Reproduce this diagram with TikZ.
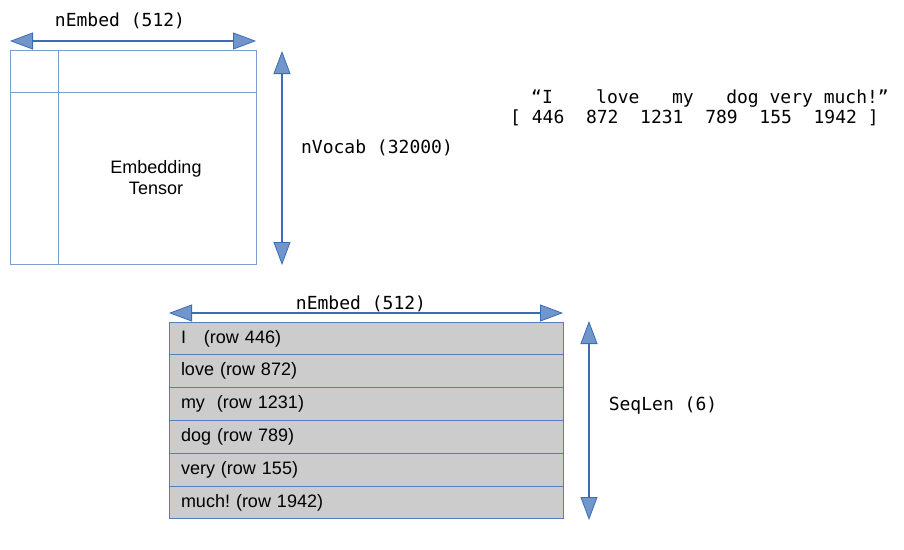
\documentclass[tikz,border=0pt]{standalone}
\usepackage{fontspec}
\setmainfont{Liberation Sans}
\newfontfamily\monof{DejaVu Sans Mono}
\usetikzlibrary{arrows.meta}
\frenchspacing
\definecolor{arrline}{RGB}{60,108,180}
\definecolor{arrfill}{RGB}{112,150,204}
\definecolor{tenline}{RGB}{124,156,205}
\definecolor{rowline}{RGB}{88,124,190}
\definecolor{rowfill}{RGB}{204,204,204}
\tikzset{
  dimarrow/.style={draw=arrline, line width=1.6pt,
    {Triangle[length=23pt,width=17pt,fill=arrfill,line width=0.8pt]}-{Triangle[length=23pt,width=17pt,fill=arrfill,line width=0.8pt]}},
  monolabel/.style={font=\monof\fontsize{18}{21}\selectfont, inner sep=0pt},
  tensor/.style={draw=tenline, line width=1pt, inner sep=0pt, outer sep=0pt},
  rowbox/.style={draw=rowline, line width=1pt, fill=rowfill, anchor=north west,
    text width=370pt, align=left, inner xsep=12pt, inner ysep=0pt, outer sep=0pt,
    minimum height=32.83pt, font=\fontsize{18}{21}\selectfont},
  sanslabel/.style={font=\fontsize{18}{21}\selectfont, align=center, inner sep=0pt}
}
\begin{document}
\begin{tikzpicture}[x=1pt,y=-1pt]
\useasboundingbox (0,0) rectangle (904,549);
% embedding tensor
\node[tensor, minimum width=246pt, minimum height=214pt, anchor=north west] (emb) at (10,50) {};
\draw[tenline, line width=1pt] ([xshift=48pt]emb.north west) -- ([xshift=48pt]emb.south west);
\draw[tenline, line width=1pt] ([yshift=-42pt]emb.north west) -- ([yshift=-42pt]emb.north east);
\node[sanslabel] (embtxt) at (156,178) {Embedding\\Tensor};
% top dimension arrow
\coordinate (ta1) at (10,41);
\coordinate (ta2) at (256,41);
\draw[dimarrow] (ta1) -- (ta2);
\node[monolabel] (nembed1) at (120,21) {nEmbed (512)};
% vocab arrow
\coordinate (va1) at (282,51);
\coordinate (va2) at (282,265);
\draw[dimarrow] (va1) -- (va2);
\node[monolabel] (nvocab) at (377,148) {nVocab (32000)};
% sentence
\node[monolabel, anchor=base west] (sent) at (531,103) {“I\ \ \ \ love\ \ \ my\ \ \ dog very much!”};
\node[monolabel, anchor=base west] (ids) at (510,123.5) {[ 446\ \ 872\ \ 1231\ \ 789\ \ 155\ \ 1942 ]};
% rows
\node[rowbox] (r1) at (169,322) {I\ \ \ (row 446)};
\node[rowbox] (r2) at (r1.south west) {love (row 872)};
\node[rowbox] (r3) at (r2.south west) {my\ \ (row 1231)};
\node[rowbox] (r4) at (r3.south west) {dog (row 789)};
\node[rowbox] (r5) at (r4.south west) {very (row 155)};
\node[rowbox] (r6) at (r5.south west) {much! (row 1942)};
% bottom arrow
\coordinate (ba1) at (169,313);
\coordinate (ba2) at (563,313);
\draw[dimarrow] (ba1) -- (ba2);
\node[monolabel] (nembed2) at (361,304) {nEmbed (512)};
% seqlen arrow
\coordinate (sa1) at (589,321);
\coordinate (sa2) at (589,520);
\draw[dimarrow] (sa1) -- (sa2);
\node[monolabel] (seqlen) at (663,406) {SeqLen (6)};
\end{tikzpicture}
\end{document}
